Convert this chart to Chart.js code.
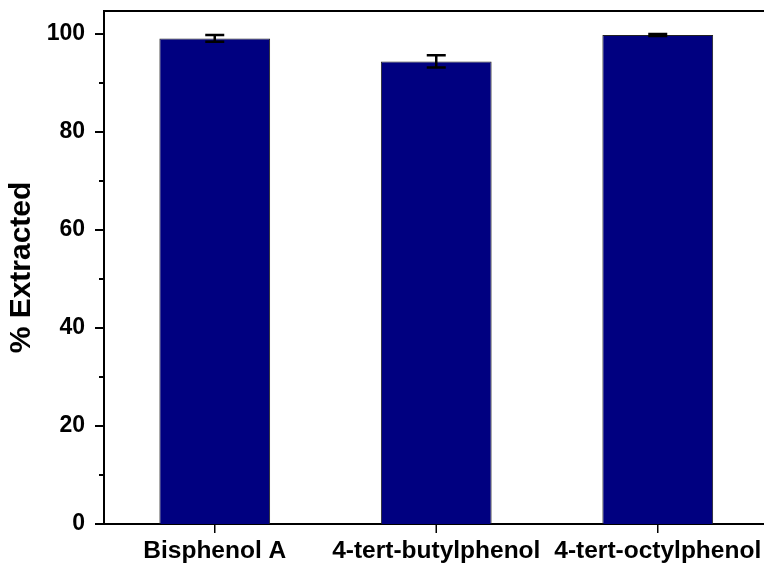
<!DOCTYPE html>
<html>
<head>
<meta charset="utf-8">
<script src="https://cdn.jsdelivr.net/npm/chart.js@4.4.0/dist/chart.umd.min.js"></script>
<style>
  body { margin: 0; overflow: hidden; background: #fff; }
  #wrap { width: 772px; height: 564px; }
</style>
</head>
<body>
<div id="wrap"><canvas id="chart" width="772" height="564"></canvas></div>
<script>
const categories = ["Bisphenol A", "4-tert-butylphenol", "4-tert-octylphenol"];
const extracted = [99.1, 94.4, 99.8];
const errors = [0.7, 1.25, 0.2];
const yMajorTicks = [0, 20, 40, 60, 80, 100];
const yMinorTicks = [10, 30, 50, 70, 90];

const FONT = "'Liberation Sans', Arial, sans-serif";

// error bars, axis ticks and the top frame line
const extras = {
  id: "extras",
  afterDatasetsDraw(chart) {
    const ctx = chart.ctx;
    const y = chart.scales.y;
    const x = chart.scales.x;
    const area = chart.chartArea;
    const meta = chart.getDatasetMeta(0);

    ctx.save();
    ctx.strokeStyle = "#000";
    ctx.lineWidth = 2.5;
    meta.data.forEach((bar, i) => {
      const top = y.getPixelForValue(extracted[i] + errors[i]);
      const bot = y.getPixelForValue(extracted[i] - errors[i]);
      ctx.beginPath();
      ctx.moveTo(bar.x, top);
      ctx.lineTo(bar.x, bot);
      ctx.moveTo(bar.x - 9.5, top);
      ctx.lineTo(bar.x + 9.5, top);
      ctx.moveTo(bar.x - 9.5, bot);
      ctx.lineTo(bar.x + 9.5, bot);
      ctx.stroke();
    });

    // top frame
    ctx.lineWidth = 2;
    ctx.beginPath();
    ctx.moveTo(area.left - 1, area.top);
    ctx.lineTo(area.right, area.top);
    ctx.stroke();

    // y ticks
    yMajorTicks.forEach(v => {
      const py = y.getPixelForValue(v);
      ctx.beginPath();
      ctx.moveTo(area.left - 9, py);
      ctx.lineTo(area.left, py);
      ctx.stroke();
    });
    yMinorTicks.forEach(v => {
      const py = y.getPixelForValue(v);
      ctx.beginPath();
      ctx.moveTo(area.left - 5, py);
      ctx.lineTo(area.left, py);
      ctx.stroke();
    });

    // x ticks
    ctx.lineWidth = 1.5;
    categories.forEach((c, i) => {
      const px = x.getPixelForValue(i);
      ctx.beginPath();
      ctx.moveTo(px, area.bottom);
      ctx.lineTo(px, area.bottom + 9);
      ctx.stroke();
    });
    ctx.restore();
  }
};

new Chart(document.getElementById("chart"), {
  type: "bar",
  data: {
    labels: categories,
    datasets: [{
      data: extracted,
      backgroundColor: "#000080",
      borderColor: "#222",
      borderWidth: 1,
      categoryPercentage: 1,
      barPercentage: 0.5
    }]
  },
  options: {
    responsive: false,
    animation: false,
    devicePixelRatio: 1,
    layout: { padding: { top: 11, right: 3.5, left: 0, bottom: 0 } },
    plugins: { legend: { display: false }, tooltip: { enabled: false } },
    scales: {
      x: {
        grid: { display: false, drawTicks: false },
        border: { display: true, color: "#000", width: 2 },
        ticks: {
          color: "#000",
          padding: 13,
          maxRotation: 0,
          autoSkip: false,
          font: { family: FONT, size: 24.5, weight: "bold" }
        },
        afterFit(scale) {
          scale.height = 40;
          scale.paddingLeft = 0;
          scale.paddingRight = 0;
        }
      },
      y: {
        min: 0,
        max: 104.7,
        grid: { display: false, drawTicks: false },
        border: { display: true, color: "#000", width: 2 },
        ticks: {
          stepSize: 20,
          includeBounds: false,
          color: "#000",
          padding: 19,
          font: { family: FONT, size: 23, weight: "bold" }
        },
        title: {
          display: true,
          text: "% Extracted",
          color: "#000",
          padding: { top: 4, bottom: 0 },
          font: { family: FONT, size: 30, weight: "bold" }
        },
        afterFit(scale) {
          scale.width = 104;
          scale.paddingTop = 0;
          scale.paddingBottom = 0;
        }
      }
    }
  },
  plugins: [extras]
});
</script>
</body>
</html>
